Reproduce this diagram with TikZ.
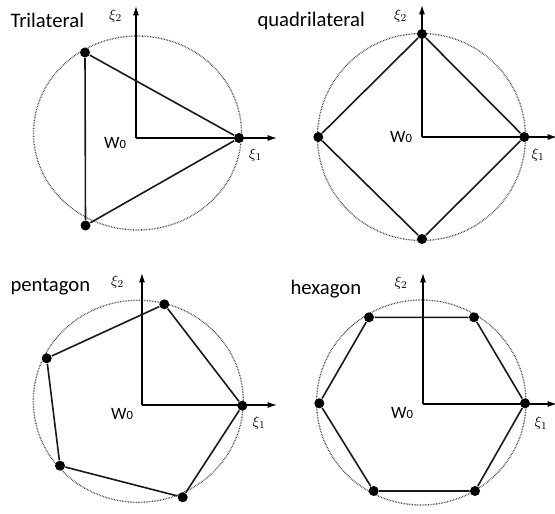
\documentclass[tikz,border=0pt]{standalone}
\usepackage{fontspec}
\setmainfont{Carlito}
\usetikzlibrary{arrows.meta}
\newcommand{\wnull}{W{\fontsize{9.5}{10}\selectfont 0}}
\tikzset{every picture/.style={line width=0.75pt}}
\tikzset{
  vtx/.style={circle,fill=black,inner sep=0pt,minimum size=7.5pt},
  edge/.style={line width=1.2pt,black!90},
  axis/.style={line width=0.9pt,-{Latex[length=7pt,width=4.5pt]}},
  rim/.style={line width=1pt,black!75,dash pattern=on 0.5pt off 0.7pt},
  title/.style={anchor=base west,inner sep=0pt,font=\fontsize{15.5}{18}\selectfont},
  orig/.style={inner sep=0pt,font=\fontsize{13}{15}\selectfont},
  axlab/.style={inner sep=0pt,font=\fontsize{11}{13}\selectfont}
}

\begin{document}
\begin{tikzpicture}[x=0.75pt,y=0.75pt,yscale=-1,xscale=1]
\useasboundingbox (0,0) rectangle (555,513);

%Shape: Ellipse [trilateral]
\draw [rim] (137.5,133) ellipse (104 and 97);
%Shape: Axis 2D [trilateral]
\coordinate (oa) at (136,138);
\coordinate (xa) at (277,138);
\coordinate (ya) at (136,6);
\draw [axis] (oa) -- (xa);
\draw [axis] (oa) -- (ya);
%Shape: Triangle
\node [vtx] (a1) at (239,138) {};
\node [vtx] (a2) at (85,52.5) {};
\node [vtx] (a3) at (85.5,225.5) {};
\draw [edge] (a1) -- (a2) -- (a3) -- (a1);

%Shape: Circle [quadrilateral]
\draw [rim] (421.5,137) ellipse (104 and 103.5);
%Shape: Axis 2D [quadrilateral]
\coordinate (ob) at (422,137);
\coordinate (xb) at (557,137);
\coordinate (yb) at (422,5);
\draw [axis] (ob) -- (xb);
\draw [axis] (ob) -- (yb);
%Shape: Square
\node [vtx] (b1) at (524.3,137) {};
\node [vtx] (b2) at (422,34) {};
\node [vtx] (b3) at (318.3,137) {};
\node [vtx] (b4) at (422,239) {};
\draw [edge] (b1) -- (b2) -- (b3) -- (b4) -- (b1);

%Shape: Ellipse [pentagon]
\draw [rim] (138.3,401.3) ellipse (105 and 101);
%Shape: Axis 2D [pentagon]
\coordinate (oc) at (142,405);
\coordinate (xc) at (277,405);
\coordinate (yc) at (142,273);
\draw [axis] (oc) -- (xc);
\draw [axis] (oc) -- (yc);
%Shape: Pentagon
\node [vtx] (c1) at (242.3,405.7) {};
\node [vtx] (c2) at (164.3,304.3) {};
\node [vtx] (c3) at (46.7,358.3) {};
\node [vtx] (c4) at (60,465.7) {};
\node [vtx] (c5) at (182.7,497.3) {};
\draw [edge] (c1) -- (c2) -- (c3) -- (c4) -- (c5) -- (c1);

%Shape: Ellipse [hexagon]
\draw [rim] (421.3,402.5) ellipse (104.7 and 102.5);
%Shape: Axis 2D [hexagon]
\coordinate (od) at (423,404);
\coordinate (xd) at (557,404);
\coordinate (yd) at (423,273);
\draw [axis] (od) -- (xd);
\draw [axis] (od) -- (yd);
%Shape: Hexagon
\node [vtx] (d1) at (525,403.3) {};
\node [vtx] (d2) at (474,317.3) {};
\node [vtx] (d3) at (369,317.3) {};
\node [vtx] (d4) at (319.3,403.3) {};
\node [vtx] (d5) at (373.7,491) {};
\node [vtx] (d6) at (475,491) {};
\draw [edge] (d1) -- (d2) -- (d3) -- (d4) -- (d5) -- (d6) -- (d1);

% Text Node
\node [title] (ta) at (10,27.3) {Trilateral};
% Text Node
\node [title] (tb) at (257,26.5) {quadrilateral};
% Text Node
\node [title] (tc) at (10,291.7) {pentagon};
% Text Node
\node [title] (td) at (290,294.3) {hexagon};

% Text Node
\node [orig] (wa) at (115,142.5) {\wnull};
\node [orig] (wb) at (401,136.5) {\wnull};
\node [orig] (wc) at (122,414) {\wnull};
\node [orig] (wd) at (402,412.5) {\wnull};

% Text Node
\node [axlab] (la2) at (115.5,15.5) {$\xi_2$};
\node [axlab] (la1) at (255.5,155) {$\xi_1$};
\node [axlab] (lb2) at (400.5,16) {$\xi_2$};
\node [axlab] (lb1) at (538,155) {$\xi_1$};
\node [axlab] (lc2) at (117.5,281.7) {$\xi_2$};
\node [axlab] (lc1) at (259,423) {$\xi_1$};
\node [axlab] (ld2) at (401,283) {$\xi_2$};
\node [axlab] (ld1) at (541,423.3) {$\xi_1$};

\end{tikzpicture}
\end{document}
